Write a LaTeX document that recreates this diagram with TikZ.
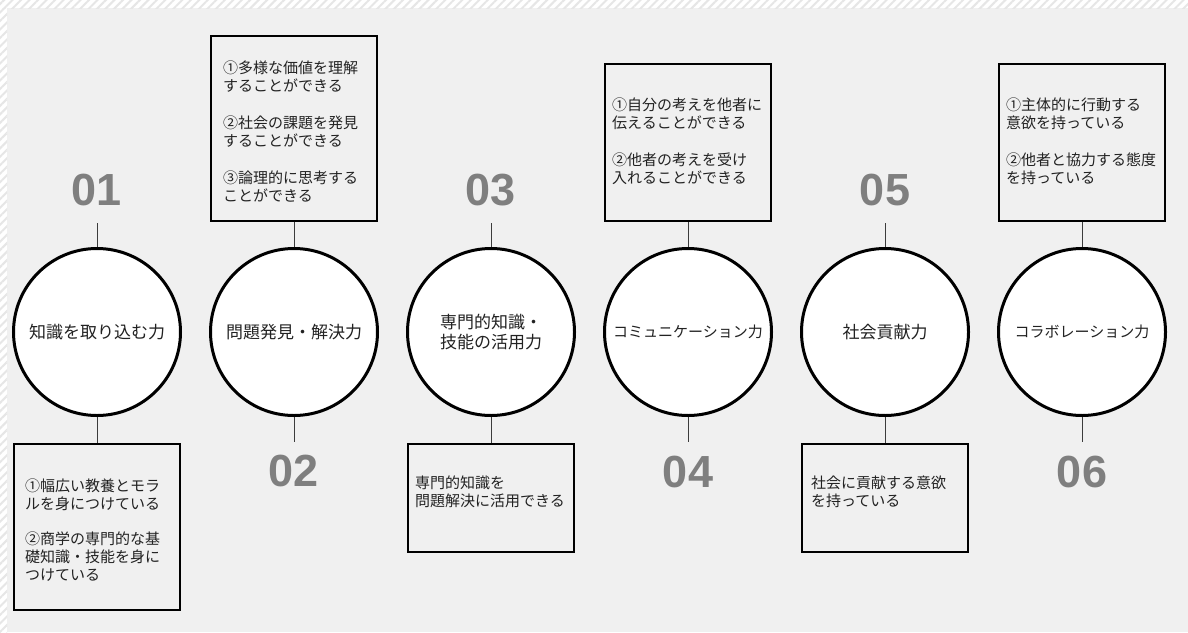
\documentclass[tikz,border=0pt]{standalone}
\usepackage{fontspec}
\usepackage{xcolor}
\usetikzlibrary{patterns.meta}
\newfontfamily\jpfont{Noto Sans CJK JP}
\newfontfamily\numfont{Liberation Sans}
\definecolor{bgcol}{HTML}{F0F0F0}
\definecolor{numcol}{HTML}{7F7F7F}
\definecolor{stemcol}{HTML}{3C3C3C}
\definecolor{hatchcol}{HTML}{E6E6E6}
\definecolor{inkcol}{HTML}{222222}

\begin{document}
\begin{tikzpicture}[x=1pt, y=-1pt,
    skill/.style={circle, draw=black, line width=3pt, fill=white, minimum size=167pt, inner sep=0pt, align=center, text=inkcol, font=\jpfont\fontsize{17}{20}\selectfont},
    numlabel/.style={text=numcol, inner sep=0pt, font=\numfont\bfseries\fontsize{45}{45}\selectfont},
    descbox/.style={draw=black, line width=2.4pt, minimum width=166pt, inner sep=0pt},
    desctext/.style={anchor=north west, inner sep=0pt, align=left, text=inkcol, font=\jpfont\fontsize{15}{18}\selectfont},
    stem/.style={draw=stemcol, line width=1pt}]
    \useasboundingbox (0, 0) rectangle (1188, 632);
    % background with hatched margins
    \fill[bgcol] (0, 0) rectangle (1188, 632);
    \fill[white] (0, 0) rectangle (1188, 8);
    \fill[white] (0, 0) rectangle (7, 632);
    \fill[pattern={Lines[angle=45, distance=6pt, line width=2pt]}, pattern color=hatchcol] (0, 0) rectangle (1188, 8);
    \fill[pattern={Lines[angle=45, distance=6pt, line width=2pt]}, pattern color=hatchcol] (0, 8) rectangle (7, 632);

    % 01
    \node[skill] (c1) at (97, 332) {知識を取り込む力};
    \node[numlabel] (n1) at (97, 190) {01};
    \coordinate (s1) at (97, 223);
    \node[descbox, minimum height=166pt, anchor=north] (b1) at (97, 443) {};
    \node[desctext] (t1) at (25, 479) {①幅広い教養とモラ\\ルを身につけている\\[17pt]②商学の専門的な基\\礎知識・技能を身に\\つけている};
    \draw[stem] (c1.north) -- (s1);
    \draw[stem] (c1.south) -- (b1.north);

    % 02
    \node[skill] (c2) at (294, 332) {問題発見・解決力};
    \node[numlabel] (n2) at (294, 471) {02};
    \coordinate (s2) at (294, 442);
    \node[descbox, minimum height=185pt, anchor=south] (b2) at (294, 222) {};
    \node[desctext] (t2) at (223, 60.5) {①多様な価値を理解\\することができる\\[19pt]②社会の課題を発見\\することができる\\[19pt]③論理的に思考する\\ことができる};
    \draw[stem] (c2.north) -- (b2.south);
    \draw[stem] (c2.south) -- (s2);

    % 03
    \node[skill] (c3) at (491, 332) {専門的知識・\\技能の活用力};
    \node[numlabel] (n3) at (491, 190) {03};
    \coordinate (s3) at (491, 223);
    \node[descbox, minimum height=108pt, anchor=north] (b3) at (491, 443) {};
    \node[desctext] (t3) at (415, 475.5) {専門的知識を\\問題解決に活用できる};
    \draw[stem] (c3.north) -- (s3);
    \draw[stem] (c3.south) -- (b3.north);

    % 04
    \node[skill, font=\jpfont\fontsize{15}{18}\selectfont] (c4) at (688, 332) {コミュニケーション力};
    \node[numlabel] (n4) at (688, 472) {04};
    \coordinate (s4) at (688, 442);
    \node[descbox, minimum height=157pt, anchor=south] (b4) at (688, 222) {};
    \node[desctext] (t4) at (612, 97.5) {①自分の考えを他者に\\伝えることができる\\[19pt]②他者の考えを受け\\入れることができる};
    \draw[stem] (c4.north) -- (b4.south);
    \draw[stem] (c4.south) -- (s4);

    % 05
    \node[skill] (c5) at (885, 332) {社会貢献力};
    \node[numlabel] (n5) at (885, 190) {05};
    \coordinate (s5) at (885, 223);
    \node[descbox, minimum height=108pt, anchor=north] (b5) at (885, 443) {};
    \node[desctext] (t5) at (811, 475.5) {社会に貢献する意欲\\を持っている};
    \draw[stem] (c5.north) -- (s5);
    \draw[stem] (c5.south) -- (b5.north);

    % 06
    \node[skill, font=\jpfont\fontsize{15}{18}\selectfont] (c6) at (1082, 332) {コラボレーション力};
    \node[numlabel] (n6) at (1082, 472) {06};
    \coordinate (s6) at (1082, 442);
    \node[descbox, minimum height=157pt, anchor=south] (b6) at (1082, 222) {};
    \node[desctext] (t6) at (1006, 97.5) {①主体的に行動する\\意欲を持っている\\[19pt]②他者と協力する態度\\を持っている};
    \draw[stem] (c6.north) -- (b6.south);
    \draw[stem] (c6.south) -- (s6);
  \end{tikzpicture}
\end{document}
